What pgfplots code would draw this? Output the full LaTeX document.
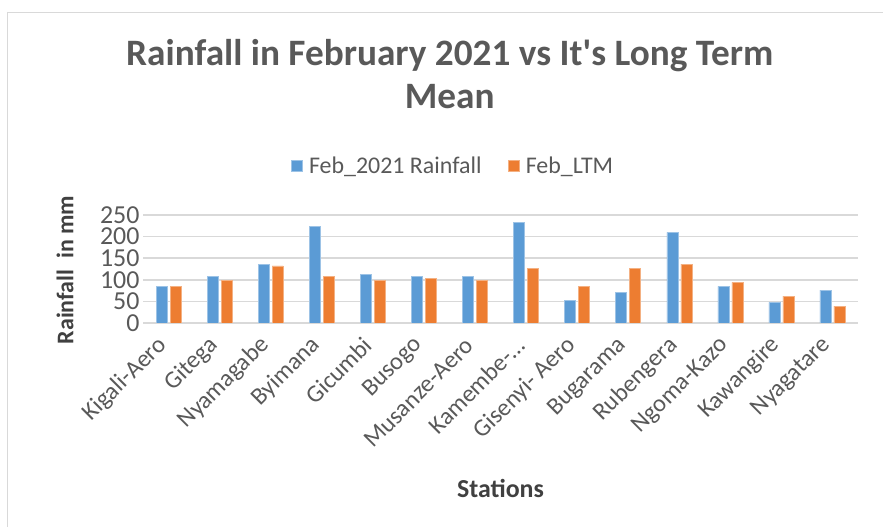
\documentclass[border=0pt]{standalone}
\usepackage{pgfplots}
\pgfplotsset{compat=1.18}
\usepackage{fontspec}
\setmainfont{Carlito}
\definecolor{cblue}{HTML}{5B9BD5}
\definecolor{corange}{HTML}{ED7D31}
\definecolor{cgrid}{HTML}{D9D9D9}
\definecolor{ctext}{HTML}{595959}
\definecolor{clabel}{HTML}{404040}
\begin{document}
\begin{tikzpicture}[x=1bp,y=1bp]
\path[use as bounding box] (0,0) rectangle (883,527);
\draw[cgrid,line width=0.8bp] (7,515) -- (883,515);
\draw[cgrid,line width=0.8bp] (7,515) -- (7,0);
\begin{axis}[
  at={(143bp,204bp)}, anchor=south west,
  scale only axis, width=715bp, height=108bp,
  xmin=-0.5, xmax=13.5, ymin=0, ymax=250,
  ytick={0,50,100,150,200,250},
  xtick={0,1,2,3,4,5,6,7,8,9,10,11,12,13},
  xticklabels={{Kigali-Aero},{Gitega},{Nyamagabe},{Byimana},{Gicumbi},{Busogo},{Musanze-Aero},{Kamembe-\ldots},{Gisenyi- Aero},{Bugarama},{Rubengera},{Ngoma-Kazo},{Kawangire},{Nyagatare}},
  x tick label style={xshift=-3bp, yshift=-12bp, rotate=45, anchor=east, font=\fontsize{24.5}{27}\selectfont, text=ctext},
  y tick label style={font=\fontsize{26}{28}\selectfont, text=ctext},
  /pgf/number format/assume math mode=true,
  axis line style={draw=none},
  tick style={draw=none},
  ymajorgrids, grid style={cgrid, line width=1.5bp},
  ybar, bar width=11bp,
  title={Rainfall in February 2021 vs It\textquotesingle s Long Term\\Mean},
  title style={at={(0.429,2.25)}, anchor=center, align=center, font=\fontsize{37.4}{44}\selectfont\bfseries, text=ctext},
  legend style={at={(0.4336,1.454)}, anchor=center, draw=none, legend columns=2, font=\fontsize{24}{26}\selectfont, text=ctext,
    /tikz/every even column/.append style={column sep=24bp}},
  legend image code/.code={\fill[#1] (0bp,-5.5bp) rectangle (11bp,5.5bp); \path[draw=none,fill=none] (0bp,0bp) -- (16bp,0bp);},
  xlabel={Stations}, ylabel={Rainfall\ \ in mm},
  xlabel style={at={(0.5,-1.53)}, anchor=center, font=\fontsize{26}{28}\selectfont\bfseries, text=clabel},
  ylabel style={at={(-0.109,0.49)}, anchor=center, rotate=0, font=\fontsize{24}{26}\selectfont\bfseries, text=clabel},
]
\addplot[fill=cblue, draw=cblue!60!white, bar shift=-7bp] coordinates {
(0,85) (1,108) (2,136) (3,224) (4,113) (5,108) (6,108) (7,233) (8,53) (9,71) (10,210) (11,85) (12,48) (13,76)};
\addplot[fill=corange, draw=corange!60!white, bar shift=7bp] coordinates {
(0,85) (1,99) (2,132) (3,108) (4,99) (5,104) (6,99) (7,126) (8,85) (9,126) (10,136) (11,94) (12,62) (13,39)};
\legend{Feb\_2021 Rainfall, Feb\_LTM}
\end{axis}
\end{tikzpicture}
\end{document}
